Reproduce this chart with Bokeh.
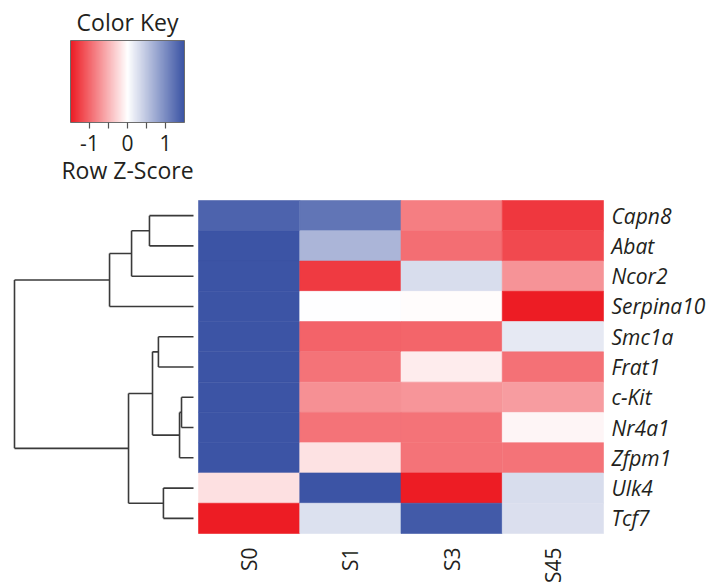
import numpy as np
from bokeh.plotting import figure
from bokeh.models import Range1d, LinearColorMapper, ColumnDataSource
from bokeh.transform import transform
from bokeh.core.properties import value
from bokeh.embed import file_html
from bokeh.resources import INLINE

# ---- data: row z-scores per sample ----
samples = ["S0", "S1", "S3", "S45"]
genes = ["Capn8", "Abat", "Ncor2", "Serpina10", "Smc1a", "Frat1",
         "c-Kit", "Nr4a1", "Zfpm1", "Ulk4", "Tcf7"]
z_S0 = [1.35, 1.48, 1.48, 1.48, 1.48, 1.48, 1.48, 1.48, 1.48, -0.20, -1.50]
z_S1 = [1.20, 0.64, -1.30, 0.00, -1.03, -0.92, -0.73, -0.92, -0.19, 1.48, 0.26]
z_S3 = [-0.85, -0.95, 0.30, -0.02, -1.01, -0.12, -0.70, -0.92, -0.92, -1.50, 1.43]
z_S45 = [-1.32, -1.20, -0.71, -1.49, 0.19, -0.93, -0.65, -0.07, -0.92, 0.30, 0.28]

# row clustering: (left node, right node, merge height); leaves 0..10, merges numbered from 11
merges = [
    (6, 7, 0.67),    # 11
    (11, 8, 0.78),   # 12
    (9, 10, 1.68),   # 13
    (4, 5, 1.96),    # 14
    (14, 12, 2.29),  # 15
    (0, 1, 2.46),    # 16
    (16, 2, 3.46),   # 17
    (15, 13, 3.63),  # 18
    (17, 3, 4.69),   # 19
    (19, 18, 10.0),  # 20
]

key_ticks = [-1.0, -0.5, 0.0, 0.5, 1.0]
key_labels = ["-1", "0", "1"]
key_label_pos = [-1.0, 0.0, 1.0]

# ---- page geometry (pixels) ----
W, H = 723, 587
HM_LEFT, HM_RIGHT, HM_TOP, HM_BOTTOM = 198, 603, 200, 533
LEAF_PX, ROOT_PX = 193, 14
KEY_ZERO_PX, KEY_PX_PER_UNIT = 127, 38
KEY_TOP, KEY_BOTTOM = 40, 122
TEXT = "#231f20"
FONT = "Open Sans"

ncol, nrow = len(samples), len(genes)
cpx = (HM_RIGHT - HM_LEFT) / ncol
rpx = (HM_BOTTOM - HM_TOP) / nrow

p = figure(width=W, height=H, output_backend="svg", toolbar_location=None,
           x_axis_location=None, y_axis_location=None,
           x_range=Range1d(-HM_LEFT / cpx, (W - HM_LEFT) / cpx),
           y_range=Range1d((H - HM_TOP) / rpx, -HM_TOP / rpx),
           min_border=0, outline_line_color=None, background_fill_color="white")
p.xgrid.visible = False
p.ygrid.visible = False

root_h = merges[-1][2]
dpx = (LEAF_PX - ROOT_PX) / root_h
p.extra_x_ranges = {
    "dend": Range1d(LEAF_PX / dpx, (LEAF_PX - W) / dpx),
    "key": Range1d(-KEY_ZERO_PX / KEY_PX_PER_UNIT, (W - KEY_ZERO_PX) / KEY_PX_PER_UNIT),
}
p.extra_y_ranges = {"px": Range1d(H, 0)}

# ---- colour scale: red - white - blue ----
red = np.array([237, 28, 36])
white = np.array([255, 255, 255])
blue = np.array([58, 83, 164])
palette = []
for t in np.linspace(-1.5, 1.5, 256):
    f = min(abs(t) / 1.5, 1.0)
    c = white + (red - white) * f if t < 0 else white + (blue - white) * f
    palette.append("#%02x%02x%02x" % tuple(int(round(v)) for v in c))
mapper = LinearColorMapper(palette=palette, low=-1.5, high=1.5)

# ---- heatmap cells ----
cols = [z_S0, z_S1, z_S3, z_S45]
xs, ys, zs = [], [], []
for ci, col in enumerate(cols):
    for ri, z in enumerate(col):
        xs.append(ci + 0.5)
        ys.append(ri + 0.5)
        zs.append(z)
src = ColumnDataSource(dict(x=xs, y=ys, z=zs))
p.rect(x="x", y="y", width=1, height=1, source=src,
       fill_color=transform("z", mapper), line_color=transform("z", mapper), line_width=0.6)

# ---- row labels (right) ----
p.text(x=[ncol] * nrow, y=[i + 0.5 for i in range(nrow)], text=genes,
       x_offset=8, y_offset=0, text_align="left", text_baseline="alphabetic",
       text_font=value(FONT), text_font_style="italic", text_font_size="21px",
       text_color=TEXT)

# ---- column labels (bottom, rotated) ----
p.text(x=[i + 0.5 for i in range(ncol)], y=[nrow] * ncol, text=samples,
       y_offset=14, angle=np.pi / 2, text_align="right", text_baseline="middle",
       text_font=value(FONT), text_font_size="21px", text_color=TEXT)

# ---- dendrogram ----
node_y = {i: i + 0.5 for i in range(nrow)}
node_h = {i: 0.0 for i in range(nrow)}
x0, y0, x1, y1 = [], [], [], []
for k, (a, b, h) in enumerate(merges):
    nid = nrow + k
    for c in (a, b):
        x0.append(node_h[c]); y0.append(node_y[c]); x1.append(h); y1.append(node_y[c])
    x0.append(h); y0.append(node_y[a]); x1.append(h); y1.append(node_y[b])
    node_y[nid] = (node_y[a] + node_y[b]) / 2
    node_h[nid] = h
p.segment(x0=x0, y0=y0, x1=x1, y1=y1, x_range_name="dend",
          line_color="#3a3a3a", line_width=1.6)

# ---- colour key ----
grad = np.linspace(-1.5, 1.5, 400)[None, :]
p.image(image=[grad], x=-1.5, y=KEY_TOP, dw=3.0, dh=KEY_BOTTOM - KEY_TOP,
        color_mapper=mapper, x_range_name="key", y_range_name="px")
p.quad(left=[-1.5], right=[1.5], top=[KEY_TOP], bottom=[KEY_BOTTOM],
       fill_color=None, line_color="#6d6d6d", line_width=1,
       x_range_name="key", y_range_name="px")
p.segment(x0=key_ticks, x1=key_ticks, y0=[KEY_BOTTOM] * len(key_ticks),
          y1=[KEY_BOTTOM + 6] * len(key_ticks), line_color="#555555", line_width=1.2,
          x_range_name="key", y_range_name="px")
p.text(x=key_label_pos, y=[142] * 3, text=key_labels, text_align="center",
       text_baseline="alphabetic", text_font=value(FONT), text_font_size="21px",
       text_color=TEXT, x_range_name="key", y_range_name="px")
p.text(x=[0], y=[21], text=["Color Key"], text_align="center",
       text_baseline="alphabetic", text_font=value(FONT), text_font_size="23px",
       text_color=TEXT, x_range_name="key", y_range_name="px")
p.text(x=[0], y=[169], text=["Row Z-Score"], text_align="center",
       text_baseline="alphabetic", text_font=value(FONT), text_font_size="23px",
       text_color=TEXT, x_range_name="key", y_range_name="px")

open("out.html", "w").write(file_html(p, INLINE))
